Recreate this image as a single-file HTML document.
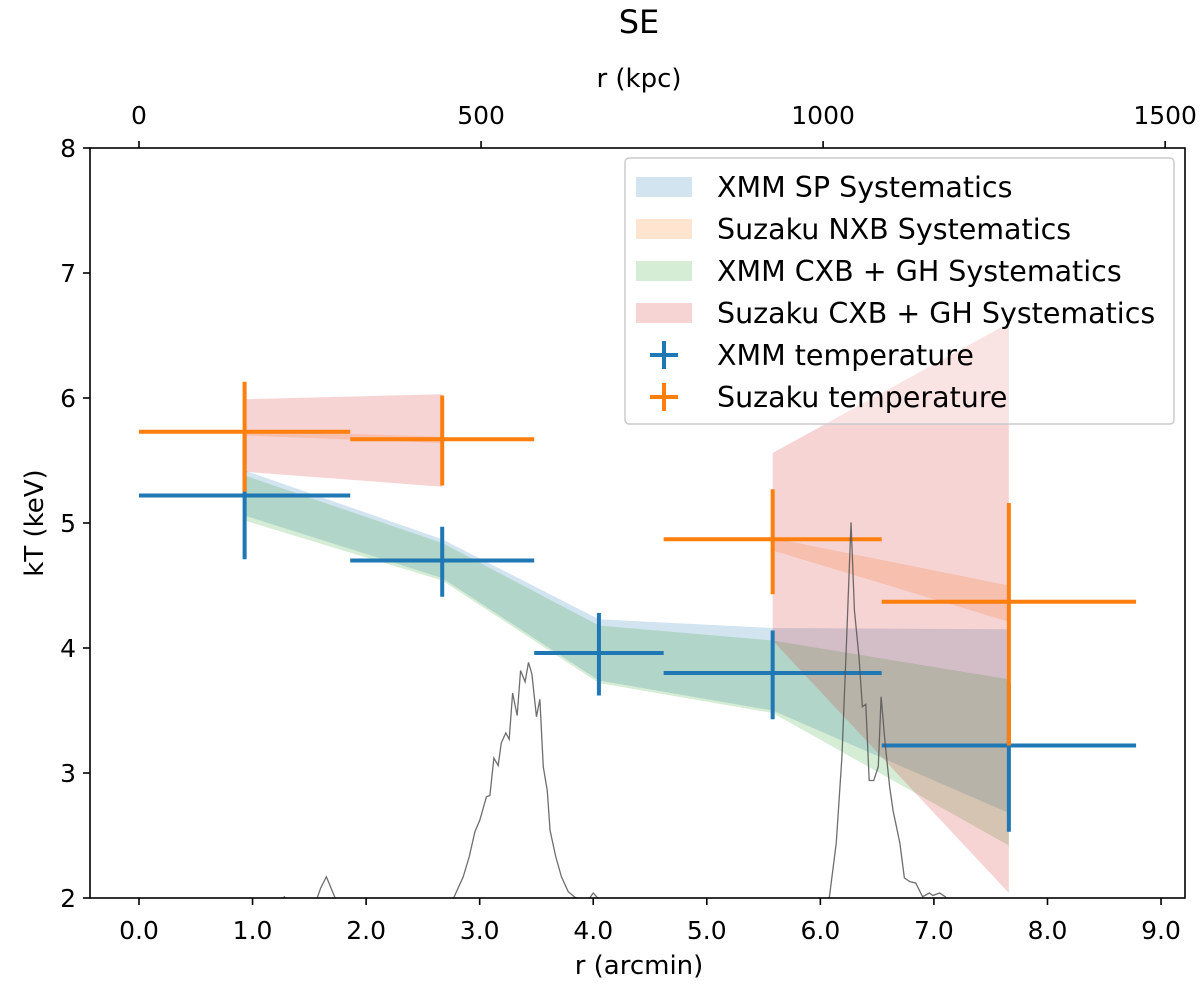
<!DOCTYPE html>
<html><head><meta charset="utf-8">
<style>
html,body{margin:0;padding:0;background:#fff;}
svg{display:block;font-family:"DejaVu Sans","Liberation Sans",sans-serif;}
</style></head>
<body>
<svg id="chart" width="1200" height="990" viewBox="0 0 1200 990" xmlns="http://www.w3.org/2000/svg">
<defs><clipPath id="plotclip"><rect x="90" y="148" width="1095" height="750"/></clipPath></defs>
<text x="639" y="33" font-size="32" text-anchor="middle">SE</text>
<text x="639" y="87" font-size="26" text-anchor="middle">r (kpc)</text>
<text x="639" y="974" font-size="26" text-anchor="middle">r (arcmin)</text>
<text x="43" y="523" font-size="26" text-anchor="middle" transform="rotate(-90 43 523)">kT (keV)</text>
<g id="bands" clip-path="url(#plotclip)"></g>
<g id="marks" clip-path="url(#plotclip)"></g>
<g id="axes"></g>
<g id="legend"></g>
</svg>
<script>
// ---- data ----
const bandX = [0.93, 2.67, 4.05, 5.58, 7.66];
const spLower = [5.06, 4.56, 3.74, 3.50, 2.68];
const spUpper = [5.42, 4.87, 4.23, 4.16, 4.15];
const xcxbLower = [5.02, 4.54, 3.72, 3.48, 2.42];
const xcxbUpper = [5.38, 4.84, 4.18, 4.06, 3.75];
const nxbX1 = [0.93, 2.67];
const nxbLower1 = [5.70, 5.64];
const nxbUpper1 = [5.74, 5.69];
const nxbX2 = [5.58, 7.66];
const nxbLower2 = [4.78, 4.21];
const nxbUpper2 = [4.88, 4.50];
const scxbX1 = [0.93, 2.67];
const scxbLower1 = [5.41, 5.29];
const scxbUpper1 = [5.99, 6.03];
const scxbX2 = [5.58, 7.66];
const scxbLower2 = [4.06, 2.04];
const scxbUpper2 = [5.56, 6.60];

const xmmR = [0.93, 2.67, 4.05, 5.58, 7.66];
const xmmRErr = [0.93, 0.81, 0.57, 0.96, 1.12];
const xmmT = [5.22, 4.70, 3.96, 3.80, 3.22];
const xmmTUp = [0.50, 0.27, 0.32, 0.34, 0.50];
const xmmTLo = [0.51, 0.29, 0.34, 0.37, 0.69];

const suzR = [0.93, 2.67, 5.58, 7.66];
const suzRErr = [0.93, 0.81, 0.96, 1.12];
const suzT = [5.73, 5.67, 4.87, 4.37];
const suzTUp = [0.40, 0.35, 0.40, 0.79];
const suzTLo = [0.48, 0.37, 0.44, 1.15];

const profX = [1.20,1.28,1.34, 1.55,1.60,1.65,1.70,1.75,
 2.70,2.773,2.855,2.908,2.958,3.00,3.06,3.09,3.125,3.163,3.19,3.23,3.26,3.29,3.33,3.36,3.40,3.43,3.46,3.50,3.53,3.56,3.595,3.62,3.67,3.72,3.78,3.84,3.90,3.96,4.00,4.04,4.10,
 6.02,6.08,6.14,6.19,6.23,6.27,6.30,6.34,6.37,6.40,6.43,6.47,6.51,6.535,6.57,6.61,6.64,6.70,6.74,6.79,6.84,6.90,6.96,6.99,7.05,7.10,7.15];
const profY = [1.95,2.01,1.95, 1.95,2.08,2.17,2.06,1.95,
 1.95,2.005,2.17,2.33,2.53,2.62,2.81,2.82,3.12,3.06,3.24,3.32,3.27,3.64,3.46,3.82,3.73,3.885,3.79,3.45,3.59,3.05,2.86,2.54,2.33,2.17,2.05,2.005,1.99,1.99,2.04,2.0,1.95,
 1.95,2.01,2.44,3.13,4.04,5.005,4.30,3.93,3.53,3.55,2.94,2.94,3.05,3.61,3.24,2.89,2.70,2.44,2.16,2.13,2.12,2.01,2.04,2.02,2.04,2.01,1.95];

const bottomTicks = [0,1,2,3,4,5,6,7,8,9];
const bottomTickLabels = ["0.0","1.0","2.0","3.0","4.0","5.0","6.0","7.0","8.0","9.0"];
const topTicksKpc = [0,500,1000,1500];
const yTicks = [2,3,4,5,6,7,8];
const kpcPerArcmin = 166.0;

// ---- scales ----
const X = v => 139 + v * 113.56;
const Y = v => 148 + (8 - v) * 125;
const NS = "http://www.w3.org/2000/svg";
function mk(tag, parent, attrs){
  const el = document.createElementNS(NS, tag);
  for (const k in attrs) el.setAttribute(k, attrs[k]);
  parent.appendChild(el);
  return el;
}
const bands = document.getElementById('bands');
const marks = document.getElementById('marks');
const axes = document.getElementById('axes');
const legend = document.getElementById('legend');

function band(xs, lo, hi, color, name){
  let pts = xs.map((x,i)=>X(x)+','+Y(hi[i]));
  for (let i=xs.length-1;i>=0;i--) pts.push(X(xs[i])+','+Y(lo[i]));
  const p = mk('polygon', bands, {points: pts.join(' '), fill: color, 'fill-opacity': 0.2});
  
  
}
band(bandX, spLower, spUpper, '#1f77b4', 'xmm-sp-systematics-band');
band(nxbX1, nxbLower1, nxbUpper1, '#ff7f0e', 'suzaku-nxb-systematics-band');
band(nxbX2, nxbLower2, nxbUpper2, '#ff7f0e', 'suzaku-nxb-systematics-band');
band(bandX, xcxbLower, xcxbUpper, '#2ca02c', 'xmm-cxb-gh-systematics-band');
band(scxbX1, scxbLower1, scxbUpper1, '#d62728', 'suzaku-cxb-gh-systematics-band');
band(scxbX2, scxbLower2, scxbUpper2, '#d62728', 'suzaku-cxb-gh-systematics-band');

function errbars(r, rerr, t, up, lo, color, name){
  r.forEach((x,i)=>{
    const g = mk('g', marks, {stroke: color, 'stroke-width': 4});
    
    
    mk('line', g, {x1: X(x - rerr[i]), x2: X(x + rerr[i]), y1: Y(t[i]), y2: Y(t[i])});
    mk('line', g, {x1: X(x), x2: X(x), y1: Y(t[i] + up[i]), y2: Y(t[i] - lo[i])});
  });
}
errbars(xmmR, xmmRErr, xmmT, xmmTUp, xmmTLo, '#1f77b4', 'xmm-temperature-point');
errbars(suzR, suzRErr, suzT, suzTUp, suzTLo, '#ff7f0e', 'suzaku-temperature-point');

const prof = mk('polyline', marks, {points: profX.map((x,i)=>X(x)+','+Y(profY[i])).join(' '), fill:'none', stroke:'#555', 'stroke-width':1.3, 'stroke-opacity':0.85});



// ---- axes ----
const frame = mk('rect', axes, {x:90, y:148, width:1095, height:750, fill:'none', stroke:'#000', 'stroke-width':1.6});


bottomTicks.forEach((v,i)=>{
  mk('line', axes, {x1:X(v), x2:X(v), y1:898, y2:905, stroke:'#000', 'stroke-width':1.6});
  const t = mk('text', axes, {x:X(v), y:939, 'font-size':25, 'text-anchor':'middle'});
  t.textContent = bottomTickLabels[i];
  
  
});
topTicksKpc.forEach(k=>{
  const x = X(k / kpcPerArcmin);
  mk('line', axes, {x1:x, x2:x, y1:141, y2:148, stroke:'#000', 'stroke-width':1.6});
  const t = mk('text', axes, {x:x, y:124, 'font-size':25, 'text-anchor':'middle'});
  t.textContent = String(k);
  
  
});
yTicks.forEach(v=>{
  mk('line', axes, {x1:83, x2:90, y1:Y(v), y2:Y(v), stroke:'#000', 'stroke-width':1.6});
  const t = mk('text', axes, {x:76, y:Y(v)+9, 'font-size':25, 'text-anchor':'end'});
  t.textContent = String(v);
  
  
});

// ---- legend ----
const lbox = mk('rect', legend, {x:625, y:158, width:549, height:266, rx:4, fill:'#fff', 'fill-opacity':0.35, stroke:'#ccc', 'stroke-width':1.5});


const legLabels = ["XMM SP Systematics","Suzaku NXB Systematics","XMM CXB + GH Systematics","Suzaku CXB + GH Systematics","XMM temperature","Suzaku temperature"];
const legColors = ['#1f77b4','#ff7f0e','#2ca02c','#d62728','#1f77b4','#ff7f0e'];
const legY = [187, 229, 271, 313, 355, 397];
legLabels.forEach((lab,i)=>{
  const g = mk('g', legend, {});
  
  
  if (i < 4) {
    mk('rect', g, {x:636, y:legY[i]-10, width:56, height:20, fill:legColors[i], 'fill-opacity':0.2});
  } else {
    mk('line', g, {x1:650, x2:678, y1:legY[i], y2:legY[i], stroke:legColors[i], 'stroke-width':4});
    mk('line', g, {x1:664, x2:664, y1:legY[i]-14, y2:legY[i]+14, stroke:legColors[i], 'stroke-width':4});
  }
  const t = mk('text', g, {x:717, y:legY[i]+10, 'font-size':28.5});
  t.textContent = lab;
});
</script>
</body></html>
